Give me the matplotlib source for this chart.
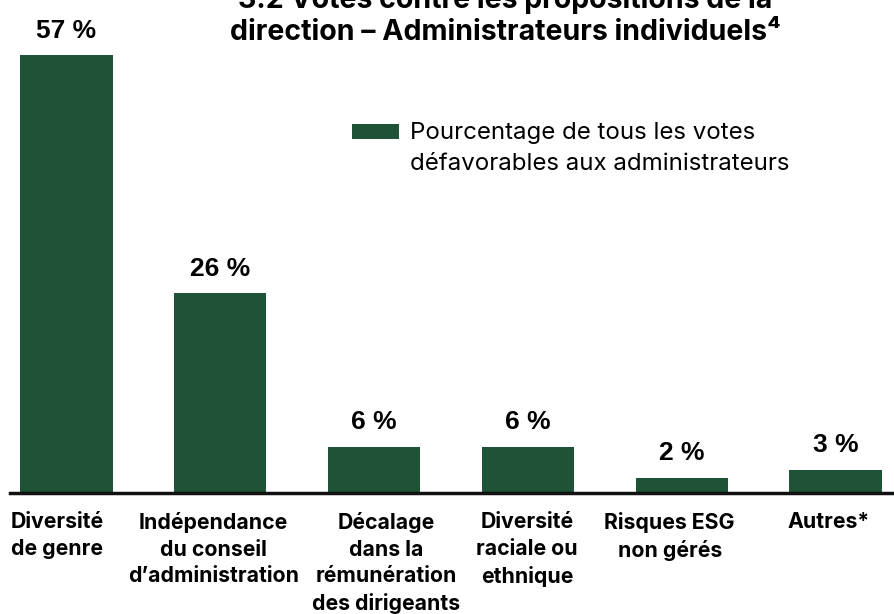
import matplotlib.pyplot as plt
from matplotlib.patches import Rectangle
from matplotlib.legend_handler import HandlerPatch, update_from_first_child
from matplotlib.transforms import ScaledTranslation

# Data
categories = ['Diversité\nde genre', 'Indépendance\ndu conseil\nd’administration',
              'Décalage\ndans la\nrémunération\ndes dirigeants',
              'Diversité\nraciale ou\nethnique', 'Risques ESG\nnon gérés', 'Autres*']
values = [57, 26, 6, 6, 2, 3]
value_labels = ['57 %', '26 %', '6 %', '6 %', '2 %', '3 %']
legend_label = 'Pourcentage de tous les votes\ndéfavorables aux administrateurs'
title = '3.2 Votes contre les propositions de la\ndirection – Administrateurs individuels⁴'

green = '#1e5338'
# small horizontal nudges (px) of the category labels, as in the source layout
label_shift = [-9, -7, 12, -1, -12, -7]


def raised_patch(legend, orig_handle, xdescent, ydescent, width, height, fontsize):
    # put the legend swatch next to the first line of the label
    return Rectangle((-xdescent, -ydescent + 0.71 * fontsize), width, height)


fig = plt.figure(figsize=(8.95, 6.14), dpi=100)
ax = fig.add_axes([10 / 895, (614 - 493) / 614, 885 / 895, 493 / 614])

x = range(len(values))
bars = ax.bar(x, values, width=0.6, color=green, label=legend_label)
ax.set_xlim(-0.367, 5.387)
ax.set_ylim(0, 493 / 7.68)

for xi, v, lab in zip(x, values, value_labels):
    ax.annotate(lab, (xi, v), xytext=(0, 9), textcoords='offset points',
                ha='center', va='bottom', fontsize=19, fontweight='bold',
                family='Liberation Sans')

for s in ['top', 'right', 'left']:
    ax.spines[s].set_visible(False)
ax.spines['bottom'].set_linewidth(2.5)
ax.spines['bottom'].set_color('#111111')
ax.set_yticks([])
ax.set_xticks(list(x))
ax.set_xticklabels(categories, fontsize=15.3, fontweight='bold', family='Inter',
                   linespacing=1.4, va='top')
ax.tick_params(axis='x', length=0, pad=14)
for lab, dx in zip(ax.get_xticklabels(), label_shift):
    lab.set_transform(lab.get_transform() + ScaledTranslation(dx / 100, 0, fig.dpi_scale_trans))

handler = HandlerPatch(patch_func=raised_patch, update_func=update_from_first_child)
leg = ax.legend(loc='upper left', bbox_to_anchor=(342 / 885, 1 - 122 / 493), frameon=False,
                prop={'family': 'Inter', 'size': 17.3}, handlelength=1.95, handleheight=0.6,
                handletextpad=0.47, borderaxespad=0, borderpad=0,
                handler_map={type(bars): handler})
for t in leg.get_texts():
    t.set_linespacing(1.5)

fig.text(505 / 895, 1 - 16 / 614, title, ha='center', va='center', fontsize=20.5,
         fontweight='bold', family='Inter', linespacing=1.2)

fig.savefig('out.png', dpi=100)
